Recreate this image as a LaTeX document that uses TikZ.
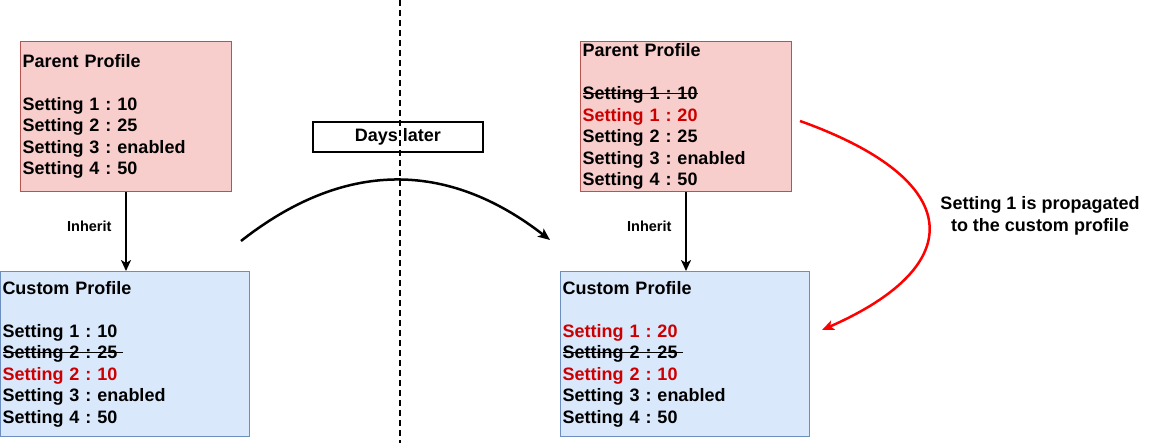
\documentclass[tikz,border=0pt]{standalone}
\usepackage{fontspec}
\setmainfont{Liberation Sans}
\usetikzlibrary{arrows.meta}
\definecolor{parentfill}{HTML}{F8CECC}
\definecolor{parentline}{HTML}{B85450}
\definecolor{customfill}{HTML}{DAE8FC}
\definecolor{customline}{HTML}{6C8EBF}
\definecolor{changed}{HTML}{CC0000}
\frenchspacing
\newlength{\strucklen}
\newcommand{\struck}[2][0pt]{\leavevmode\settowidth{\strucklen}{#2}\addtolength{\strucklen}{#1}\rlap{\rule[0.3em]{\strucklen}{1.3pt}}#2}
\begin{document}
\begin{tikzpicture}[x=1pt,y=-1pt,
  every node/.style={font=\fontsize{18}{21.5}\selectfont\bfseries},
  profile/.style={rectangle,anchor=north west,align=left,inner xsep=2pt,inner ysep=0pt},
  parent/.style={profile,fill=parentfill,draw=parentline,line width=1pt,
    minimum width=211pt,minimum height=150pt,text width=207pt},
  custom/.style={profile,fill=customfill,draw=customline,line width=1pt,
    minimum width=249pt,minimum height=165pt,text width=245pt},
  inherit/.style={line width=2.5pt,-{Stealth[length=11pt,width=10pt,inset=3pt]}},
  later/.style={line width=2.5pt,-{Stealth[length=12pt,width=10pt,inset=3pt]}}]
\useasboundingbox (0,0) rectangle (1151,443);
% before
\node[parent] (pp1) at (20,41) {Parent Profile\\[21.5pt]Setting 1 : 10\\Setting 2 : 25\\Setting 3 : enabled\\Setting 4 : 50};
\node[custom] (cp1) at (0,271) {Custom Profile\\[21.5pt]Setting 1 : 10\\\struck[5pt]{Setting 2 : 25}\\\textcolor{changed}{Setting 2 : 10}\\Setting 3 : enabled\\Setting 4 : 50};
\draw[inherit] (pp1.south) -- node[pos=0.44,left=10pt,font=\fontsize{14.5}{16}\selectfont\bfseries] (inh1) {Inherit} (cp1.north -| pp1.south);
% after
\node[parent] (pp2) at (580,41) {Parent Profile\\[21.5pt]\struck{Setting 1 : 10}\\\textcolor{changed}{Setting 1 : 20}\\Setting 2 : 25\\Setting 3 : enabled\\Setting 4 : 50};
\node[custom] (cp2) at (560,271) {Custom Profile\\[21.5pt]\textcolor{changed}{Setting 1 : 20}\\\struck[5pt]{Setting 2 : 25}\\\textcolor{changed}{Setting 2 : 10}\\Setting 3 : enabled\\Setting 4 : 50};
\draw[inherit] (pp2.south) -- node[pos=0.44,left=10pt,font=\fontsize{14.5}{16}\selectfont\bfseries] (inh2) {Inherit} (cp2.north -| pp2.south);
% time passes
\node[draw,line width=2pt,minimum width=170pt,minimum height=30pt,inner sep=0pt] (days) at (398,137) {Days later};
\coordinate (from) at (241,241);
\coordinate (to) at (550,240);
\draw[later] (from) .. controls (344,160) and (447,160) .. (to);
% propagation
\coordinate (src) at (800,121);
\coordinate (dst) at (822,330);
\draw[later,red] (src) .. controls (965,180) and (970,265) .. (dst);
\node[align=center] (note) at (1040,216) {Setting 1 is propagated\\to the custom profile};
\draw[line width=2pt,dash pattern=on 6pt off 4pt] (400,0) -- (400,443);
\end{tikzpicture}
\end{document}
